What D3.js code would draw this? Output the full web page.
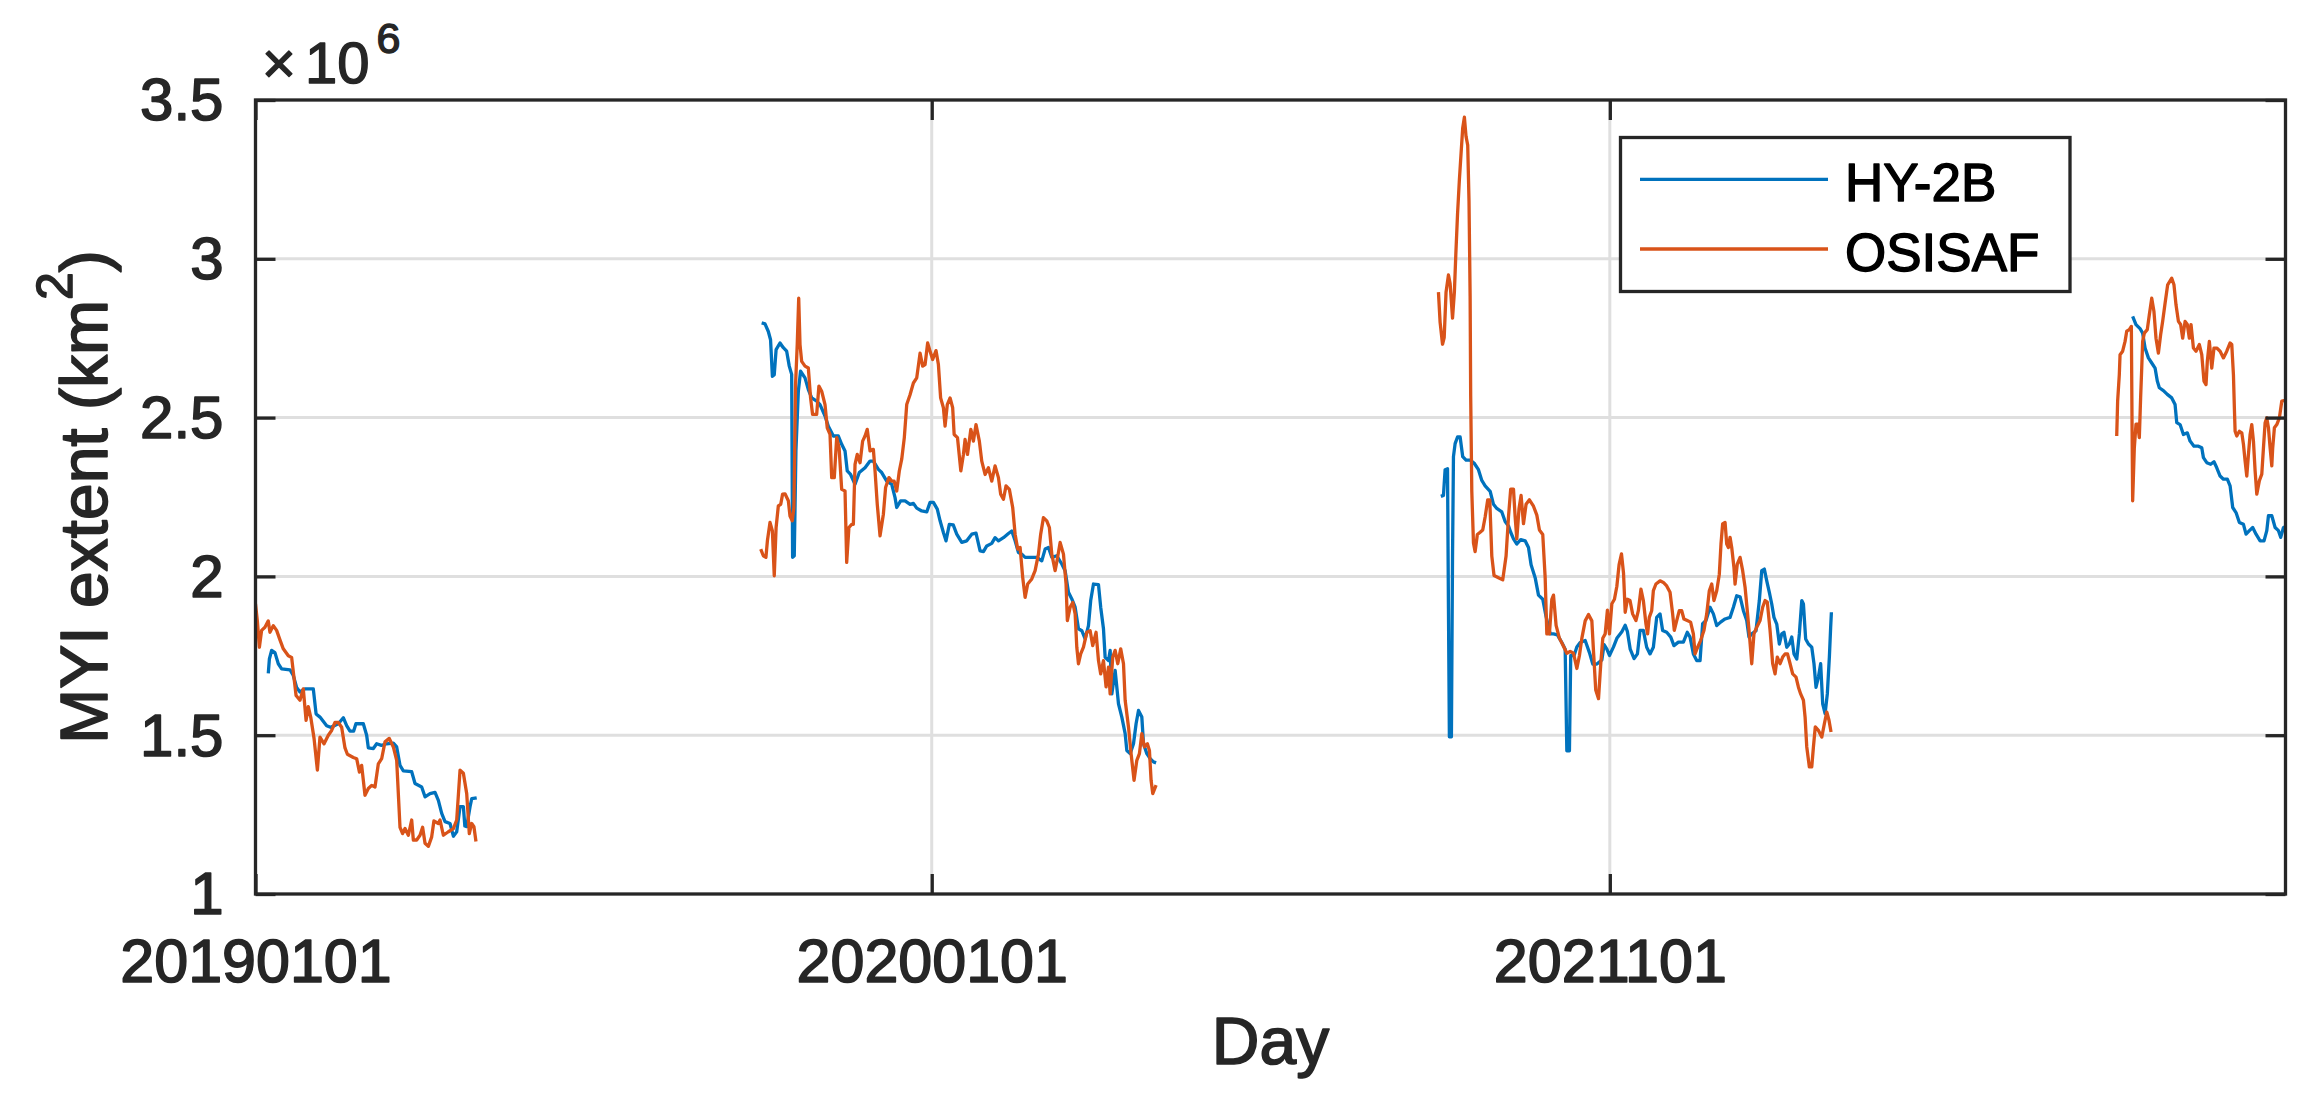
<!DOCTYPE html>
<html>
<head>
<meta charset="utf-8">
<script src="https://cdn.jsdelivr.net/npm/d3@7"></script>
<style>
	body { margin: 0; background: #fff; }
	text { font-family: 'Liberation Sans', Arial, Helvetica, sans-serif; }
</style>
</head>
<body>
<svg id="chart" width="2318" height="1100"></svg>
<script>
// day index counted from 2019-01-01, MYI extent in 10^6 km2
// null starts a gap in the record
const hy2b2019 = [
	[0, 1.722], [0.6, 1.722], [3, null],
	[6.9, 1.695], [7.5, 1.74], [8.7, 1.767], [10.5, 1.76], [12.3, 1.725], [14.1, 1.709], [18.6, 1.706],
	[20.4, 1.688], [22.2, 1.65], [24, 1.636], [26.7, 1.646], [31.2, 1.646], [32.7, 1.567], [34.8, 1.557],
	[38.4, 1.53], [40.5, 1.525], [42.5, 1.53], [44.7, 1.536], [47.4, 1.555], [49.2, 1.53], [51, 1.513],
	[53, 1.513], [54.2, 1.536], [58.2, 1.536], [60, 1.5], [60.9, 1.46], [63.6, 1.458], [65.4, 1.473],
	[68, 1.468], [70.8, 1.473], [74.4, 1.475], [76.2, 1.463], [78, 1.405], [79.8, 1.388], [84.3, 1.385],
	[86.1, 1.348], [89.7, 1.337], [91.5, 1.306], [94.2, 1.316], [96.9, 1.32], [98.7, 1.295], [100.5, 1.254],
	[102.3, 1.228], [105, 1.222], [106.8, 1.182], [108.6, 1.196], [110.4, 1.275], [112.2, 1.275], [113, 1.214],
	[114, 1.212], [115.8, 1.275], [116.7, 1.3], [119.4, 1.303],
];
const osisaf2019 = [
	[0, 1.913], [1, 1.86], [2.1, 1.777], [3.3, 1.83], [5.1, 1.84], [6.9, 1.86], [7.8, 1.824], [9.6, 1.845],
	[11.4, 1.83], [13.2, 1.8], [15, 1.772], [17.7, 1.75], [19.5, 1.745], [21.9, 1.625], [24, 1.61],
	[25.8, 1.646], [27.3, 1.547], [28.5, 1.59], [29.8, 1.557], [31.6, 1.49], [33.4, 1.39], [34.8, 1.494],
	[37, 1.473], [39.3, 1.5], [41.1, 1.515], [42.9, 1.54], [44.7, 1.54], [46.5, 1.525], [48.3, 1.46],
	[49.6, 1.44], [52.8, 1.43], [54.6, 1.426], [56.1, 1.384], [57.3, 1.405], [59.1, 1.311], [60.9, 1.332],
	[62.7, 1.342], [64.5, 1.337], [66.3, 1.41], [68.1, 1.426], [69.9, 1.479], [72.2, 1.49], [74.4, 1.463],
	[76.2, 1.421], [78, 1.21], [79.4, 1.19], [80.7, 1.206], [82.5, 1.185], [84.3, 1.233], [85.2, 1.17],
	[87, 1.17], [88.8, 1.185], [90.2, 1.21], [91.5, 1.16], [93.3, 1.15], [95.1, 1.18], [96.3, 1.23],
	[98.7, 1.222], [99.6, 1.233], [101.4, 1.185], [104.1, 1.196], [106.8, 1.206], [108.6, 1.233], [110.4, 1.39],
	[112.2, 1.38], [114, 1.316], [115.4, 1.19], [116.7, 1.222], [117.9, 1.212], [119, 1.165],
];
const hy2b2020 = [
	[273.2, 2.798], [275, 2.795], [276.8, 2.771], [278, 2.745], [279, 2.63], [280, 2.635], [281, 2.714],
	[283.1, 2.735], [284.9, 2.72], [286.7, 2.709], [288.1, 2.662], [289.4, 2.636], [289.9, 2.06], [290.8, 2.065],
	[291.7, 2.395], [293, 2.583], [294.2, 2.646], [296.6, 2.625], [298.4, 2.588], [300.2, 2.562], [302.9, 2.552],
	[304.7, 2.541], [307.4, 2.505], [309.2, 2.473], [311.9, 2.442], [314.6, 2.442], [316.4, 2.416], [318.2, 2.395],
	[319.4, 2.332], [321.2, 2.321], [323.6, 2.29], [325.9, 2.327], [329, 2.342], [331.7, 2.363], [333.5, 2.363],
	[336.2, 2.337], [338, 2.327], [340.7, 2.3], [343.4, 2.29], [345.2, 2.248], [346.1, 2.217], [348.2, 2.238],
	[350.6, 2.238], [353.3, 2.227], [355.1, 2.23], [356.9, 2.215], [359.6, 2.206], [362.3, 2.203], [364.1, 2.233],
	[365.9, 2.233], [368, 2.212], [369.5, 2.175], [371.3, 2.138], [372.7, 2.112], [374.5, 2.164], [376.6, 2.162],
	[378.5, 2.133], [381.2, 2.107], [383.9, 2.112], [386.6, 2.133], [388.9, 2.136], [391.1, 2.08], [392.9, 2.078],
	[394.7, 2.096], [397.4, 2.104], [399.2, 2.122], [401, 2.112], [403.7, 2.122], [406.4, 2.135], [408.2, 2.143],
	[410, 2.112], [411.8, 2.075], [413.6, 2.07], [415.4, 2.06], [418.1, 2.06], [421.7, 2.06], [424.4, 2.049],
	[426.2, 2.086], [428, 2.091], [429.8, 2.06], [432.5, 2.065], [435.2, 2.039], [437, 2.018], [438.8, 1.95],
	[440.6, 1.929], [442.4, 1.903], [444.2, 1.835], [446, 1.829], [447.8, 1.803], [449.6, 1.845], [450.8, 1.924],
	[452.3, 1.976], [455, 1.974], [456.2, 1.903], [457.7, 1.835], [458.6, 1.745], [460.4, 1.735], [461.3, 1.767],
	[462.2, 1.63], [464, 1.704], [465.8, 1.599], [467.6, 1.557], [469.4, 1.505], [470.3, 1.452], [472.1, 1.442],
	[473.9, 1.473], [475.3, 1.536], [476.6, 1.578], [478.4, 1.557], [479.3, 1.473], [481.1, 1.442], [482.9, 1.426],
	[484.7, 1.416], [486.1, 1.413],
];
const osisaf2020 = [
	[272.7, 2.086], [274.1, 2.065], [275.5, 2.06], [276.3, 2.112], [277.7, 2.17], [279, 2.143], [280, 2.002],
	[281, 2.154], [282.2, 2.222], [283.5, 2.227], [284.5, 2.259], [285.8, 2.26], [287.6, 2.238], [288.5, 2.19],
	[289.7, 2.175], [290.6, 2.217], [291.5, 2.604], [292.4, 2.73], [293.2, 2.876], [293.9, 2.73], [294.8, 2.677],
	[296.6, 2.662], [298.4, 2.656], [299.6, 2.562], [300.7, 2.51], [302.9, 2.51], [304.1, 2.599], [305.6, 2.583],
	[307.4, 2.541], [308.6, 2.468], [310.1, 2.447], [311, 2.311], [312.4, 2.311], [313.7, 2.437], [315, 2.405],
	[316.4, 2.274], [318.2, 2.269], [319.1, 2.044], [320.3, 2.154], [321.8, 2.164], [322.7, 2.164], [323.6, 2.353],
	[324.8, 2.384], [326.3, 2.358], [327.7, 2.426], [329, 2.442], [330.2, 2.463], [331.7, 2.395], [333.5, 2.4],
	[334.4, 2.332], [335.6, 2.227], [337.1, 2.128], [338.9, 2.196], [340.1, 2.28], [341.9, 2.311], [343.4, 2.3],
	[344.7, 2.3], [346.1, 2.269], [347.5, 2.332], [348.8, 2.369], [350.2, 2.437], [351.5, 2.541], [353.3, 2.572],
	[355.1, 2.609], [356.9, 2.625], [358.7, 2.703], [360.1, 2.662], [361.4, 2.667], [362.8, 2.735], [364.1, 2.709],
	[365.5, 2.683], [367.3, 2.711], [368.6, 2.667], [369.8, 2.562], [371.3, 2.531], [372.2, 2.473], [373.4, 2.541],
	[374.9, 2.562], [376.3, 2.531], [377.1, 2.447], [378.9, 2.437], [380.7, 2.332], [382.1, 2.384], [383, 2.431],
	[384.3, 2.384], [386.1, 2.463], [387.5, 2.426], [388.9, 2.478], [390.7, 2.426], [392, 2.363], [393.8, 2.321],
	[395.6, 2.342], [397.4, 2.3], [399.2, 2.348], [401, 2.311], [402.2, 2.259], [403.7, 2.243], [405.1, 2.285],
	[406.9, 2.274], [408.7, 2.217], [410, 2.133], [411.4, 2.086], [412.7, 2.091], [414.1, 1.997], [415.4, 1.934],
	[416.8, 1.976], [419, 1.992], [420.8, 2.018], [422.6, 2.07], [423.8, 2.133], [425.3, 2.185], [427.1, 2.175],
	[428.5, 2.154], [429.8, 2.07], [431.6, 2.018], [432.8, 2.055], [434.3, 2.107], [436.1, 2.07], [437.5, 1.976],
	[438.2, 1.861], [439.7, 1.903], [441.1, 1.918], [442.4, 1.882], [443.3, 1.777], [444.2, 1.725], [445.4, 1.756],
	[446.9, 1.777], [448.7, 1.824], [450.5, 1.829], [451.9, 1.782], [453.7, 1.824], [455, 1.735], [456.2, 1.693],
	[457.7, 1.735], [459.1, 1.652], [460.4, 1.714], [461.3, 1.63], [462.7, 1.746], [464, 1.767], [465.4, 1.725],
	[467, 1.772], [468.5, 1.725], [469.4, 1.61], [471.2, 1.526], [472.6, 1.442], [474.2, 1.358], [475.7, 1.421],
	[477.1, 1.442], [478.4, 1.505], [479.8, 1.463], [481.4, 1.473], [482.5, 1.452], [483.4, 1.358], [484.3, 1.316],
	[486.1, 1.343],
];
const hy2b2021 = [
	[639.8, 2.252], [641.2, 2.255], [642.1, 2.336], [643.4, 2.339], [643.9, 1.9], [644.4, 1.495], [645.5, 1.495],
	[646.1, 2.064], [646.6, 2.377], [647.5, 2.418], [648.8, 2.439], [650.2, 2.439], [651.6, 2.377], [653.4, 2.366],
	[655.6, 2.366], [657.7, 2.357], [660.1, 2.336], [661.9, 2.302], [663.7, 2.285], [666.4, 2.268], [668.2, 2.227],
	[670, 2.214], [672.7, 2.203], [674.5, 2.173], [676.3, 2.159], [677.5, 2.139], [679, 2.118], [680.8, 2.102],
	[682.9, 2.116], [685.3, 2.112], [687.1, 2.091], [688.5, 2.037], [690.7, 1.996], [692.5, 1.941], [694.8, 1.928],
	[696.6, 1.873], [698.8, 1.819], [700.6, 1.819], [702.7, 1.816], [705.1, 1.792], [706.9, 1.771], [707.8, 1.451],
	[709.2, 1.451], [709.9, 1.751], [711.7, 1.751], [713.2, 1.778], [715, 1.792], [717.7, 1.798], [720, 1.76],
	[721.8, 1.724], [724, 1.724], [726.7, 1.737], [727.9, 1.785], [729.4, 1.771], [730.8, 1.751], [733, 1.778],
	[734.8, 1.805], [737.5, 1.826], [739.3, 1.846], [740.5, 1.826], [742, 1.771], [744.1, 1.741], [745.9, 1.756],
	[747.3, 1.83], [749.1, 1.83], [750.9, 1.777], [752.7, 1.756], [754.5, 1.777], [756.3, 1.871], [758.1, 1.882],
	[759.5, 1.83], [761.7, 1.824], [763.9, 1.809], [765.6, 1.782], [768, 1.793], [770.7, 1.793], [772.8, 1.824],
	[774.3, 1.809], [776.1, 1.756], [777.9, 1.735], [779.7, 1.735], [781.1, 1.851], [782.9, 1.861], [785.1, 1.903],
	[786.9, 1.882], [788.7, 1.845], [790.8, 1.856], [793.2, 1.866], [795.9, 1.871], [797.7, 1.903], [799.5, 1.939],
	[801.3, 1.936], [803.1, 1.892], [804.9, 1.861], [806.1, 1.809], [807.6, 1.819], [809.9, 1.829], [811.7, 1.924],
	[813, 2.018], [814.4, 2.023], [815.7, 1.986], [817.1, 1.95], [818.4, 1.913], [819.6, 1.871], [821.1, 1.85],
	[822.5, 1.787], [823.8, 1.819], [825, 1.824], [826.5, 1.777], [827.9, 1.787], [829.2, 1.809], [830.4, 1.756],
	[831.9, 1.74], [833.3, 1.819], [834.6, 1.924], [835.5, 1.913], [836.7, 1.803], [838.2, 1.787], [840, 1.777],
	[841.2, 1.725], [842.3, 1.651], [843.6, 1.683], [844.8, 1.725], [845.9, 1.599], [847.2, 1.568], [848.4, 1.63],
	[849.5, 1.746], [850.2, 1.84], [850.6, 1.887],
];
const osisaf2021 = [
	[638.5, 2.895], [639.4, 2.8], [640.7, 2.731], [641.6, 2.752], [642.6, 2.895], [643.9, 2.949], [644.8, 2.922],
	[646.1, 2.813], [647.1, 2.895], [647.9, 3.017], [648.8, 3.14], [649.8, 3.249], [650.7, 3.331], [651.6, 3.412],
	[652.5, 3.446], [653.4, 3.385], [654.3, 3.358], [655, 3.181], [655.6, 2.881], [655.9, 2.568], [656.5, 2.268],
	[657.4, 2.105], [658.3, 2.078], [659.5, 2.132], [661, 2.139], [662.4, 2.146], [663.7, 2.187], [665.1, 2.241],
	[666.2, 2.241], [667.3, 2.064], [668.5, 2.003], [670.9, 1.996], [673.2, 1.989], [675, 2.064], [676.3, 2.187],
	[677.5, 2.275], [679, 2.275], [679.9, 2.187], [680.8, 2.118], [682, 2.214], [683.1, 2.255], [684.4, 2.166],
	[685.8, 2.227], [687.6, 2.241], [689.8, 2.221], [691.6, 2.193], [693, 2.146], [694.8, 2.132], [696.1, 1.996],
	[697, 1.819], [698.4, 1.819], [699.7, 1.928], [700.6, 1.941], [702, 1.846], [703.8, 1.805], [705.6, 1.785],
	[707.8, 1.758], [709.6, 1.764], [711.4, 1.758], [713.2, 1.71], [714.6, 1.751], [715.9, 1.805], [717.7, 1.86],
	[719.5, 1.88], [721.3, 1.86], [722.2, 1.764], [723.4, 1.642], [724.9, 1.615], [726.1, 1.724], [727.2, 1.805],
	[728.5, 1.819], [729.7, 1.894], [730.8, 1.819], [732.1, 1.914], [733.5, 1.928], [734.8, 1.969], [736, 2.037],
	[737.3, 2.071], [738.4, 2.01], [739.3, 1.887], [740.5, 1.928], [741.9, 1.924], [743.3, 1.882], [745.1, 1.861],
	[746.4, 1.892], [747.8, 1.96], [749.1, 1.924], [750.5, 1.85], [751.4, 1.819], [752.3, 1.871], [753.6, 1.892],
	[754.5, 1.955], [755.9, 1.976], [758.1, 1.986], [759.9, 1.981], [761.7, 1.97], [763.5, 1.95], [764.9, 1.882],
	[765.8, 1.83], [767.1, 1.861], [768.5, 1.892], [769.8, 1.892], [771, 1.866], [772.8, 1.861], [774.6, 1.856],
	[776.1, 1.819], [777, 1.756], [778.4, 1.777], [780, 1.798], [781.8, 1.83], [783.3, 1.882], [784.7, 1.955],
	[786, 1.976], [787.2, 1.924], [788.7, 1.955], [790.1, 2.007], [791, 2.102], [791.9, 2.165], [793.2, 2.17],
	[794.1, 2.102], [795, 2.091], [795.9, 2.123], [796.8, 2.091], [798, 2.028], [798.6, 1.976], [799.8, 2.039],
	[801.3, 2.06], [802.7, 2.018], [804, 1.966], [805.2, 1.892], [806.3, 1.819], [807.6, 1.725], [808.8, 1.819],
	[810.3, 1.84], [812.1, 1.861], [813.5, 1.903], [814.8, 1.924], [816, 1.919], [817.5, 1.829], [818.9, 1.725],
	[820.2, 1.693], [821.4, 1.746], [822.9, 1.725], [824.3, 1.746], [825.6, 1.756], [826.9, 1.756], [828.3, 1.725],
	[829.7, 1.693], [831.5, 1.683], [832.8, 1.651], [834, 1.63], [835.5, 1.61], [836.4, 1.557], [837.3, 1.463],
	[838.7, 1.4], [840, 1.4], [840.9, 1.463], [841.9, 1.526], [843.6, 1.515], [845.4, 1.494], [846.8, 1.536],
	[848.1, 1.573], [849.3, 1.547], [850.4, 1.51],
];
const hy2b2022 = [
	[1013.2, 2.819], [1015, 2.793], [1017.2, 2.78], [1018.6, 2.766], [1019.9, 2.719], [1021.7, 2.688],
	[1023.5, 2.672], [1025.3, 2.656], [1026.5, 2.615], [1027.6, 2.594], [1029.8, 2.585], [1031.9, 2.573],
	[1034.3, 2.562], [1036.1, 2.541], [1037, 2.484], [1038.8, 2.478], [1040.6, 2.447], [1042.7, 2.452],
	[1044.2, 2.426], [1046.3, 2.41], [1048.7, 2.41], [1050.5, 2.405], [1051.4, 2.374], [1053.2, 2.358],
	[1055.3, 2.353], [1057.1, 2.361], [1058.6, 2.342], [1060.4, 2.316], [1062.2, 2.306], [1064.3, 2.306],
	[1065.8, 2.285], [1067.2, 2.217], [1069, 2.201], [1070.8, 2.17], [1073, 2.164], [1074.4, 2.133],
	[1076.2, 2.144], [1078, 2.154], [1079.8, 2.133], [1082, 2.112], [1084.1, 2.112], [1085.6, 2.144],
	[1086.5, 2.191], [1088.3, 2.191], [1090.1, 2.154], [1091.9, 2.144], [1093.1, 2.123], [1094.6, 2.154],
	[1095.5, 2.156],
];
const osisaf2022 = [
	[1004.6, 2.442], [1005.1, 2.552], [1006, 2.635], [1006.4, 2.698], [1007.8, 2.709], [1009.1, 2.74],
	[1010, 2.772], [1011.4, 2.777], [1012.5, 2.787], [1012.9, 2.457], [1013.2, 2.238], [1014.1, 2.405],
	[1015, 2.479], [1015.9, 2.479], [1016.8, 2.437], [1017.5, 2.562], [1018.1, 2.656], [1018.6, 2.74],
	[1019.5, 2.766], [1021.1, 2.777], [1022.2, 2.824], [1023.5, 2.876], [1024.7, 2.834], [1025.8, 2.75],
	[1027.1, 2.703], [1028.3, 2.761], [1029.4, 2.803], [1030.7, 2.86], [1032.1, 2.918], [1034.3, 2.939],
	[1035.5, 2.918], [1036.6, 2.855], [1037.9, 2.803], [1039.1, 2.793], [1040.2, 2.75], [1041.5, 2.803],
	[1042.7, 2.793], [1043.8, 2.75], [1044.7, 2.793], [1046, 2.719], [1047.4, 2.709], [1049.2, 2.73],
	[1050.5, 2.698], [1051.7, 2.615], [1052.8, 2.604], [1053.5, 2.677], [1054.6, 2.74], [1055.9, 2.656],
	[1057.1, 2.719], [1058.6, 2.719], [1060.4, 2.709], [1062.2, 2.688], [1064, 2.709], [1065.8, 2.735],
	[1066.7, 2.73], [1067.6, 2.635], [1068.1, 2.531], [1068.5, 2.457], [1069.4, 2.442], [1070.8, 2.457],
	[1072.1, 2.452], [1073, 2.416], [1073.9, 2.363], [1074.8, 2.316], [1075.7, 2.384], [1076.6, 2.447],
	[1077.5, 2.478], [1078.4, 2.426], [1079.3, 2.332], [1080.2, 2.259], [1081.6, 2.301], [1082.9, 2.322],
	[1083.8, 2.405], [1084.7, 2.484], [1085.6, 2.499], [1086.5, 2.468], [1087.4, 2.405], [1088.3, 2.348],
	[1088.8, 2.405], [1089.7, 2.468], [1091, 2.478], [1092.4, 2.499], [1093.7, 2.552], [1095.5, 2.554],
];

const seriesNames = ['HY-2B', 'OSISAF'];
const seriesColors = ['#0072BD', '#D95319'];
const seriesSegments = [
	[hy2b2019, hy2b2020, hy2b2021, hy2b2022],
	[osisaf2019, osisaf2020, osisaf2021, osisaf2022],
];

const xTickDays = [0, 365, 731];
const xTickLabels = ['20190101', '20200101', '2021101'];
const yTicks = [1, 1.5, 2, 2.5, 3, 3.5];
const xDomain = [0, 1095.7];
const yDomain = [1, 3.5];

const box = { left: 255.5, right: 2285.5, top: 100, bottom: 894 };
const ink = '#262626';
const gridColor = '#dfdfdf';

const svg = d3.select('#chart');

const x = d3.scaleLinear().domain(xDomain).range([box.left, box.right]);
const y = d3.scaleLinear().domain(yDomain).range([box.bottom, box.top]);

// the source text is a touch heavier than plain Liberation Sans
function heavy(sel, color, w) {
	sel.attr('stroke', color)
		.attr('stroke-width', w)
		.attr('stroke-linejoin', 'round');
}

svg.append('rect')
	.attr('width', 2318)
	.attr('height', 1100)
	.attr('fill', '#fff');

svg.append('defs').append('clipPath')
	.attr('id', 'plotclip')
	.append('rect')
	.attr('x', box.left)
	.attr('y', box.top)
	.attr('width', box.right - box.left)
	.attr('height', box.bottom - box.top);

// grid
const grid = svg.append('g');
grid.selectAll('.hgrid')
	.data(yTicks.slice(1, -1))
	.enter().append('line')
	.attr('x1', box.left)
	.attr('x2', box.right)
	.attr('y1', d => y(d))
	.attr('y2', d => y(d))
	.attr('stroke', gridColor)
	.attr('stroke-width', 3);
grid.selectAll('.vgrid')
	.data(xTickDays.slice(1))
	.enter().append('line')
	.attr('x1', d => x(d))
	.attr('x2', d => x(d))
	.attr('y1', box.top)
	.attr('y2', box.bottom)
	.attr('stroke', gridColor)
	.attr('stroke-width', 3);

// data lines
const line = d3.line()
	.defined(d => d[1] !== null)
	.x(d => x(d[0]))
	.y(d => y(d[1]));

const plot = svg.append('g').attr('clip-path', 'url(#plotclip)');
seriesSegments.forEach((segs, i) => {
	segs.forEach(seg => {
		plot.append('path')
			.datum(seg)
			.attr('d', line)
			.attr('fill', 'none')
			.attr('stroke', seriesColors[i])
			.attr('stroke-width', 3.3)
			.attr('stroke-linejoin', 'round');
	});
});

// axes, ticks pointing inward on all four sides
function styleAxis(g, fontSize) {
	g.select('.domain').remove();
	g.selectAll('.tick line')
		.attr('stroke', ink)
		.attr('stroke-width', 3.3);
	g.selectAll('.tick text')
		.attr('fill', ink)
		.style('font-size', fontSize + 'px')
		.call(heavy, ink, 1.6);
}

svg.append('g')
	.attr('transform', `translate(${box.left},0)`)
	.call(d3.axisLeft(y).tickValues(yTicks).tickSize(-20).tickPadding(32).tickFormat(d => String(d)))
	.call(g => styleAxis(g, 60))
	.call(g => g.selectAll('.tick text').attr('dy', '0.33em'));

svg.append('g')
	.attr('transform', `translate(${box.right},0)`)
	.call(d3.axisRight(y).tickValues(yTicks).tickSize(-20).tickFormat(''))
	.call(g => styleAxis(g, 60));

svg.append('g')
	.attr('transform', `translate(0,${box.bottom})`)
	.call(d3.axisBottom(x).tickValues(xTickDays).tickSize(-20).tickPadding(45)
		.tickFormat((d, i) => xTickLabels[i]))
	.call(g => styleAxis(g, 61));

svg.append('g')
	.attr('transform', `translate(0,${box.top})`)
	.call(d3.axisTop(x).tickValues(xTickDays).tickSize(-20).tickFormat(''))
	.call(g => styleAxis(g, 61));

svg.append('rect')
	.attr('x', box.left)
	.attr('y', box.top)
	.attr('width', box.right - box.left)
	.attr('height', box.bottom - box.top)
	.attr('fill', 'none')
	.attr('stroke', ink)
	.attr('stroke-width', 3.3);

// exponent
const expo = svg.append('text')
	.attr('x', 262)
	.attr('y', 83)
	.attr('fill', ink)
	.style('font-size', '58px')
	.call(heavy, ink, 1.4);
expo.append('tspan').text('\u00d7');
expo.append('tspan').attr('dx', 9).text('10');
expo.append('tspan')
	.attr('dx', 7)
	.attr('dy', -30)
	.style('font-size', '43px')
	.text('6');

// axis labels
svg.append('text')
	.attr('x', (box.left + box.right) / 2)
	.attr('y', 1064)
	.attr('text-anchor', 'middle')
	.attr('fill', ink)
	.style('font-size', '66px')
	.call(heavy, ink, 1.6)
	.text('Day');

const ylab = svg.append('text')
	.attr('transform', `translate(107,${(box.top + box.bottom) / 2}) rotate(-90)`)
	.attr('text-anchor', 'middle')
	.attr('fill', ink)
	.style('font-size', '66px')
	.call(heavy, ink, 1.6);
ylab.append('tspan').text('MYI extent (km');
ylab.append('tspan')
	.attr('dy', -35)
	.style('font-size', '50px')
	.text('2');
ylab.append('tspan')
	.attr('dy', 35)
	.text(')');

// legend
const legend = svg.append('g');
legend.append('rect')
	.attr('x', 1620.5)
	.attr('y', 137.5)
	.attr('width', 449.5)
	.attr('height', 154)
	.attr('fill', '#fff')
	.attr('stroke', ink)
	.attr('stroke-width', 3.3);

const legendRows = [179.3, 249];
seriesNames.forEach((name, i) => {
	legend.append('line')
		.attr('x1', 1640)
		.attr('x2', 1828)
		.attr('y1', legendRows[i])
		.attr('y2', legendRows[i])
		.attr('stroke', seriesColors[i])
		.attr('stroke-width', 3.3);
	legend.append('text')
		.attr('x', 1845)
		.attr('y', legendRows[i] + 21.5)
		.attr('fill', '#000')
		.style('font-size', '53px')
		.call(heavy, '#000', 1.4)
		.text(name);
});
</script>
</body>
</html>
